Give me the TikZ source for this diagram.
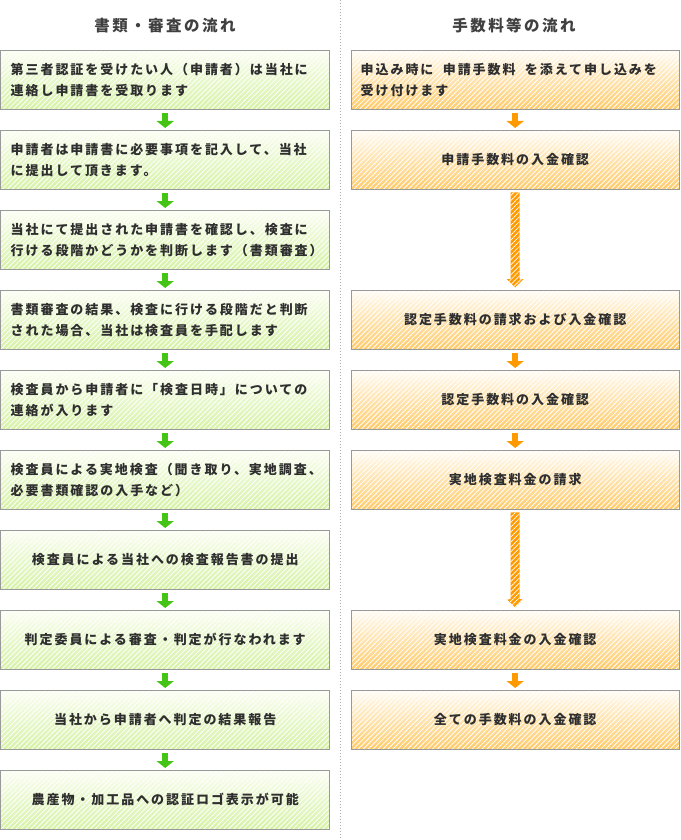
\documentclass[tikz,border=0pt]{standalone}
\usepackage{fontspec}
\newfontfamily\jp{Noto Sans CJK JP}[LetterSpace=15]
\newfontfamily\jpt{Noto Sans CJK JP}[LetterSpace=16]
\usetikzlibrary{arrows.meta,patterns.meta}
\definecolor{boxline}{HTML}{999999}
\definecolor{gtop}{HTML}{FBFEF3}
\definecolor{gbot}{HTML}{D6F2A6}
\definecolor{otop}{HTML}{FFFCF5}
\definecolor{obot}{HTML}{FFCB6A}
\definecolor{garr}{HTML}{44C414}
\definecolor{oarr}{HTML}{FF9A00}
\definecolor{txt}{HTML}{2E2E2E}
\definecolor{ttl}{HTML}{404040}
\definecolor{divc}{HTML}{AAAAAA}
\tikzset{
  stripes/.style={pattern={Lines[angle=45,distance=3.5pt,line width=0.8pt]},
      pattern color=white, fill opacity=0.45},
  faintstripes/.style={pattern={Lines[angle=45,distance=3.5pt,line width=0.7pt]},
      pattern color=white, fill opacity=0.25},
  basebox/.style={anchor=north west,
    minimum height=59pt, inner sep=0pt, text width=309pt, align=left,
    font=\jp\bfseries\fontsize{13}{21}\selectfont, text=txt,
    postaction={stripes},
    postaction={draw=boxline, line width=1pt}},
  gbox/.style={basebox, minimum width=329pt, top color=gtop, bottom color=gbot},
  obox/.style={basebox, minimum width=328pt, top color=otop, bottom color=obot},
  mid/.style={align=center},
  ttlnode/.style={font=\jpt\bfseries\fontsize{15.5}{18}\selectfont, text=ttl, inner sep=0pt},
  garrow/.style={draw=garr, line width=6pt, -{Triangle[width=17pt,length=7pt]}},
  oarrow/.style={draw=oarr, line width=6pt, -{Triangle[width=17pt,length=7pt]}},
  olong/.style={fill=oarr, draw=none, postaction={faintstripes}},
  divider/.style={draw=divc, line width=1pt, dash pattern=on 1pt off 2pt}
}
\newcommand{\longarrow}[2]{%
  \path[olong] ([xshift=-4.5pt,yshift=-3pt]#1.south) -- ([xshift=4.5pt,yshift=-3pt]#1.south)
    -- ([xshift=4.5pt,yshift=11pt]#2.north) -- ([xshift=8.5pt,yshift=11pt]#2.north)
    -- ([yshift=2.5pt]#2.north) -- ([xshift=-8.5pt,yshift=11pt]#2.north)
    -- ([xshift=-4.5pt,yshift=11pt]#2.north) -- cycle;}
\begin{document}
\begin{tikzpicture}[x=1pt,y=-1pt]
\useasboundingbox (0,0) rectangle (680,840);
\coordinate (dtop) at (340,0);
\coordinate (dbot) at (340,840);
\draw[divider] (dtop) -- (dbot);
\node[ttlnode] (t1) at (165,26) {書類・審査の流れ};
\node[ttlnode] (t2) at (514,26) {手数料等の流れ};

\node[gbox] (L1) at (0.5,50) {第三者認証を受けたい人（申請者）は当社に\\連絡し申請書を受取ります};
\node[gbox] (L2) at (0.5,130) {申請者は申請書に必要事項を記入して、当社\\に提出して頂きます。};
\node[gbox] (L3) at (0.5,210) {当社にて提出された申請書を確認し、検査に\\行ける段階かどうかを判断します（書類審査）};
\node[gbox] (L4) at (0.5,290) {書類審査の結果、検査に行ける段階だと判断\\された場合、当社は検査員を手配します};
\node[gbox] (L5) at (0.5,370) {検査員から申請者に「検査日時」についての\\連絡が入ります};
\node[gbox] (L6) at (0.5,450) {検査員による実地検査（聞き取り、実地調査、\\必要書類確認の入手など）};
\node[gbox,mid] (L7) at (0.5,530) {検査員による当社への検査報告書の提出};
\node[gbox,mid] (L8) at (0.5,610) {判定委員による審査・判定が行なわれます};
\node[gbox,mid] (L9) at (0.5,690) {当社から申請者へ判定の結果報告};
\node[gbox,mid] (L10) at (0.5,770) {農産物・加工品への認証ロゴ表示が可能};

\foreach \a/\b in {L1/L2,L2/L3,L3/L4,L4/L5,L5/L6,L6/L7,L7/L8,L8/L9,L9/L10}
  \draw[garrow] ([yshift=-4pt]\a.south) -- ([yshift=2pt]\b.north);

\node[obox] (R1) at (351,50) {申込み時に\hspace{5pt} 申請手数料\hspace{5pt} を添えて申し込みを\\受け付けます};
\node[obox,mid] (R2) at (351,130) {申請手数料の入金確認};
\node[obox,mid] (R3) at (351,290) {認定手数料の請求および入金確認};
\node[obox,mid] (R4) at (351,370) {認定手数料の入金確認};
\node[obox,mid] (R5) at (351,450) {実地検査料金の請求};
\node[obox,mid] (R6) at (351,610) {実地検査料金の入金確認};
\node[obox,mid] (R7) at (351,690) {全ての手数料の入金確認};

\foreach \a/\b in {R1/R2,R3/R4,R4/R5,R6/R7}
  \draw[oarrow] ([yshift=-4pt]\a.south) -- ([yshift=2pt]\b.north);
\longarrow{R2}{R3}
\longarrow{R5}{R6}
\end{tikzpicture}
\end{document}
